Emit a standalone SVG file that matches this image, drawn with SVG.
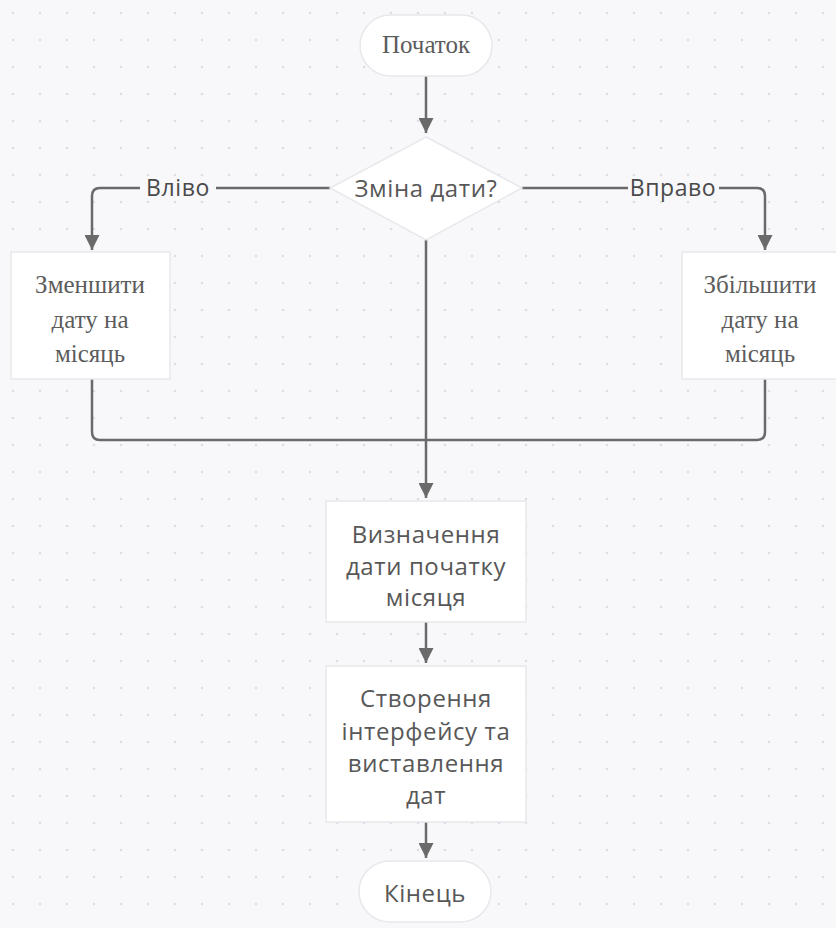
<svg xmlns="http://www.w3.org/2000/svg" width="836" height="928" viewBox="0 0 836 928">
<defs>
<pattern id="grid" x="0" y="0" width="27" height="27" patternUnits="userSpaceOnUse">
<circle cx="13" cy="13" r="1.3" fill="#dddde6"/>
</pattern>
<marker id="arr" viewBox="0 0 10 10" refX="10" refY="5" markerWidth="6" markerHeight="6" markerUnits="strokeWidth" orient="auto">
<path d="M0,0 L10,5 L0,10 z" fill="#6a6a6a"/>
</marker>
<style>
.node{fill:#ffffff;stroke:#e8e8ec;stroke-width:1.5}
.serif{font-family:"Liberation Serif","Times New Roman",serif;font-size:25px;fill:#5c5c5c;text-anchor:middle}
.sans{font-family:"Open Sans","Noto Sans",sans-serif;font-size:24px;letter-spacing:0.6px;fill:#585858;text-anchor:middle}
.lbl{font-family:"Open Sans","Noto Sans",sans-serif;font-size:23px;letter-spacing:0.6px;fill:#4a4a4a;text-anchor:middle}
.edge{fill:none;stroke:#6a6a6a;stroke-width:2.5}
</style>
</defs>
<rect width="836" height="928" fill="#f8f8fb"/>
<rect width="836" height="928" fill="url(#grid)"/>

<g id="connectors">
<path class="edge" d="M426,76 V133" marker-end="url(#arr)"/>
<path class="edge" d="M330,188 H216"/>
<path class="edge" d="M140,188 H100 Q92,188 92,196 V250" marker-end="url(#arr)"/>
<path class="edge" d="M522,188 H628"/>
<path class="edge" d="M719,188 H757 Q765,188 765,196 V250" marker-end="url(#arr)"/>
<path class="edge" d="M92,379 V432 Q92,440 100,440 H426"/>
<path class="edge" d="M765,379 V432 Q765,440 757,440 H426"/>
<path class="edge" d="M426,240 V498" marker-end="url(#arr)"/>
<path class="edge" d="M426,622 V663" marker-end="url(#arr)"/>
<path class="edge" d="M426,822 V858" marker-end="url(#arr)"/>
<text class="lbl" x="178" y="196">Вліво</text>
<text class="lbl" x="673" y="196">Вправо</text>
</g>

<g id="start">
<rect class="node" x="360" y="15" width="132" height="61" rx="30.5"/>
<text class="serif" x="426" y="53">Початок</text>
</g>

<g id="decision">
<polygon class="node" points="426,137 522,188 426,240 330,188"/>
<text class="sans" x="426" y="197">Зміна дати?</text>
</g>

<g id="decrease">
<rect class="node" x="11" y="252" width="159" height="127"/>
<text class="serif" x="90" y="293">Зменшити</text>
<text class="serif" x="90" y="328">дату на</text>
<text class="serif" x="90" y="362">місяць</text>
</g>

<g id="increase">
<rect class="node" x="682" y="252" width="156" height="127"/>
<text class="serif" x="760" y="293">Збільшити</text>
<text class="serif" x="760" y="328">дату на</text>
<text class="serif" x="760" y="362">місяць</text>
</g>

<g id="month-start">
<rect class="node" x="326" y="501" width="200" height="121"/>
<text class="sans" x="426" y="543">Визначення</text>
<text class="sans" x="426" y="575">дати початку</text>
<text class="sans" x="426" y="606">місяця</text>
</g>

<g id="interface">
<rect class="node" x="326" y="666" width="200" height="156"/>
<text class="sans" x="426" y="707">Створення</text>
<text class="sans" x="426" y="740">інтерфейсу та</text>
<text class="sans" x="426" y="772">виставлення</text>
<text class="sans" x="426" y="804">дат</text>
</g>

<g id="end">
<rect class="node" x="359" y="861" width="132" height="61" rx="30.5"/>
<text class="sans" x="425" y="902">Кінець</text>
</g>
</svg>
